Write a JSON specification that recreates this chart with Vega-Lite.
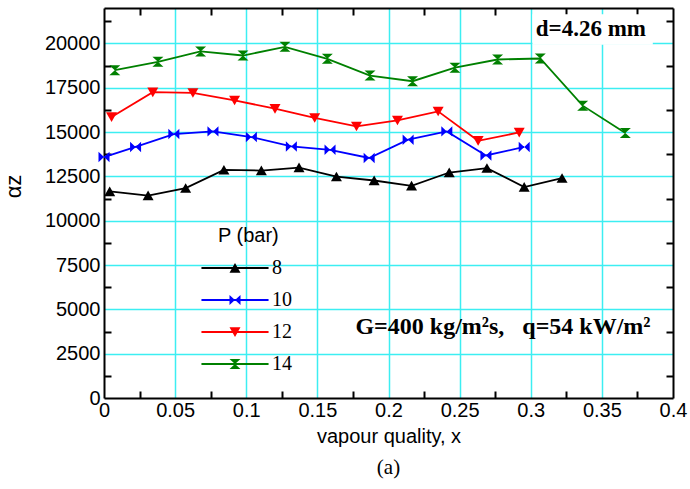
{
  "$schema": "https://vega.github.io/schema/vega-lite/v6.json",
  "autosize": "none",
  "padding": {"left": 104, "top": 8, "right": 17, "bottom": 91},
  "width": 569,
  "height": 390,
  "background": "white",
  "config": {"view": {"stroke": null}},
  "title": {"text": "(a)", "orient": "bottom", "font": "Liberation Serif", "fontSize": 21, "fontWeight": "normal", "color": "black", "offset": 11},
  "datasets": {
    "htc": [
      {"P": "8", "x": 0.004, "h": 11650}, {"P": "8", "x": 0.031, "h": 11420}, {"P": "8", "x": 0.0574, "h": 11840},
      {"P": "8", "x": 0.0843, "h": 12870}, {"P": "8", "x": 0.1106, "h": 12830}, {"P": "8", "x": 0.1371, "h": 13000},
      {"P": "8", "x": 0.1634, "h": 12490}, {"P": "8", "x": 0.1899, "h": 12270}, {"P": "8", "x": 0.2162, "h": 11970},
      {"P": "8", "x": 0.2427, "h": 12720}, {"P": "8", "x": 0.2692, "h": 12970}, {"P": "8", "x": 0.2954, "h": 11900},
      {"P": "8", "x": 0.322, "h": 12400},
      {"P": "10", "x": 0.0, "h": 13590}, {"P": "10", "x": 0.0222, "h": 14160}, {"P": "10", "x": 0.0491, "h": 14890},
      {"P": "10", "x": 0.0766, "h": 15040}, {"P": "10", "x": 0.1036, "h": 14720}, {"P": "10", "x": 0.1317, "h": 14190},
      {"P": "10", "x": 0.1589, "h": 14000}, {"P": "10", "x": 0.1864, "h": 13540}, {"P": "10", "x": 0.2138, "h": 14570},
      {"P": "10", "x": 0.241, "h": 15040}, {"P": "10", "x": 0.2685, "h": 13680}, {"P": "10", "x": 0.2954, "h": 14160},
      {"P": "12", "x": 0.0053, "h": 15850}, {"P": "12", "x": 0.0343, "h": 17250}, {"P": "12", "x": 0.0625, "h": 17210},
      {"P": "12", "x": 0.0918, "h": 16790}, {"P": "12", "x": 0.1202, "h": 16320}, {"P": "12", "x": 0.1481, "h": 15800},
      {"P": "12", "x": 0.1775, "h": 15320}, {"P": "12", "x": 0.2063, "h": 15660}, {"P": "12", "x": 0.2349, "h": 16170},
      {"P": "12", "x": 0.263, "h": 14510}, {"P": "12", "x": 0.2919, "h": 14980},
      {"P": "14", "x": 0.0076, "h": 18490}, {"P": "14", "x": 0.0379, "h": 18965}, {"P": "14", "x": 0.0679, "h": 19550},
      {"P": "14", "x": 0.0977, "h": 19320}, {"P": "14", "x": 0.1272, "h": 19810}, {"P": "14", "x": 0.157, "h": 19135},
      {"P": "14", "x": 0.187, "h": 18190}, {"P": "14", "x": 0.2169, "h": 17870}, {"P": "14", "x": 0.2467, "h": 18630},
      {"P": "14", "x": 0.2767, "h": 19095}, {"P": "14", "x": 0.3067, "h": 19150}, {"P": "14", "x": 0.3365, "h": 16490},
      {"P": "14", "x": 0.3665, "h": 14950}
    ]
  },
  "data": {"name": "htc"},
  "resolve": {"axis": {"x": "independent", "y": "independent"}, "scale": {"shape": "independent"}, "legend": {"shape": "independent", "color": "independent"}},
  "layer": [
    {
      "mark": {"type": "line", "strokeWidth": 1.8},
      "encoding": {
        "x": {"field": "x", "type": "quantitative", "scale": {"domain": [0, 0.4], "nice": false, "zero": false},
          "axis": {"orient": "bottom", "values": [0,0.025,0.05,0.075,0.1,0.125,0.15,0.175,0.2,0.225,0.25,0.275,0.3,0.325,0.35,0.375,0.4],
            "labelExpr": "abs(datum.value*20 - round(datum.value*20)) < 0.01 ? datum.label : ''",
            "format": "~g", "labelFont": "Liberation Sans", "labelFontSize": 20, "labelColor": "black", "labelPadding": 9,
            "labelFlush": false, "labelOverlap": false,
            "domain": true, "domainColor": "black", "domainWidth": 2,
            "ticks": true, "tickSize": -7, "tickWidth": 2, "tickColor": "black",
            "tickOpacity": {"condition": {"test": "abs(datum.value*20 - round(datum.value*20)) > 0.01", "value": 1}, "value": 0},
            "grid": true, "gridColor": "#3CEEF2", "gridWidth": 1.5,
            "gridOpacity": {"condition": {"test": "abs(datum.value*20 - round(datum.value*20)) < 0.01 && datum.value > 0.001 && datum.value < 0.399", "value": 1}, "value": 0},
            "title": "vapour quality, x", "titleFont": "Liberation Sans", "titleFontSize": 20, "titleFontWeight": "normal", "titleColor": "black", "titlePadding": 6}},
        "y": {"field": "h", "type": "quantitative", "scale": {"domain": [0, 22000], "nice": false, "zero": false},
          "axis": {"orient": "left", "values": [0,1250,2500,3750,5000,6250,7500,8750,10000,11250,12500,13750,15000,16250,17500,18750,20000,21250],
            "labelExpr": "datum.value % 2500 === 0 ? '' + datum.value : ''",
            "labelFont": "Liberation Sans", "labelFontSize": 20, "labelColor": "black", "labelPadding": 11,
            "labelFlush": false, "labelOverlap": false,
            "domain": true, "domainColor": "black", "domainWidth": 2,
            "ticks": true, "tickSize": -7, "tickWidth": 2, "tickColor": "black",
            "tickOpacity": {"condition": {"test": "datum.value % 2500 !== 0", "value": 1}, "value": 0},
            "grid": true, "gridColor": "#3CEEF2", "gridWidth": 1.5,
            "gridOpacity": {"condition": {"test": "datum.value % 2500 === 0 && datum.value > 0", "value": 1}, "value": 0},
            "title": "αz", "titleFont": "Liberation Sans", "titleFontSize": 22, "titleFontWeight": "normal", "titleColor": "black",
            "titleAngle": -90, "titleX": -91, "titleY": 178, "titleAlign": "center", "titleBaseline": "middle"}},
        "color": {"field": "P", "type": "nominal", "scale": {"domain": ["8", "10", "12", "14"], "range": ["#000000", "#0000FF", "#FF0000", "#008000"]}, "legend": null},
        "detail": {"field": "P"}
      }
    },
    {
      "mark": {"type": "point", "filled": true, "opacity": 1, "size": 121, "strokeWidth": 0},
      "encoding": {
        "x": {"field": "x", "type": "quantitative", "scale": {"domain": [0, 0.4], "nice": false, "zero": false}, "axis": null},
        "y": {"field": "h", "type": "quantitative", "scale": {"domain": [0, 22000], "nice": false, "zero": false}, "axis": null},
        "color": {"field": "P", "type": "nominal", "scale": {"domain": ["8", "10", "12", "14"], "range": ["#000000", "#0000FF", "#FF0000", "#008000"]}, "legend": null},
        "shape": {"field": "P", "type": "nominal", "scale": {"domain": ["8", "10", "12", "14"], "range": [
          "M-1,0.85L0,-0.9L1,0.85Z",
          "M-1,-0.95L0,0L-1,0.95Z M1,0.95L0,0L1,-0.95Z",
          "M-1,-0.85L1,-0.85L0,0.9Z",
          "M-1,-0.9L1,-0.9L0,0Z M1,0.9L-1,0.9L0,0Z"]}, "legend": null}
      }
    },
    {
      "data": {"values": [{"x1": 0.3012, "x2": 0.3858, "y1": 19930, "y2": 21650}]},
      "mark": {"type": "rect", "color": "white", "opacity": 1},
      "encoding": {
        "x": {"field": "x1", "type": "quantitative", "scale": {"domain": [0, 0.4], "nice": false, "zero": false}, "axis": null},
        "x2": {"field": "x2"},
        "y": {"field": "y1", "type": "quantitative", "scale": {"domain": [0, 22000], "nice": false, "zero": false}, "axis": null},
        "y2": {"field": "y2"}
      }
    },
    {
      "data": {"values": [{"t": "d=4.26 mm", "x": 0.3423, "y": 20790}]},
      "mark": {"type": "text", "font": "Liberation Serif", "fontWeight": "bold", "fontSize": 23, "color": "black", "align": "center", "baseline": "middle"},
      "encoding": {
        "x": {"field": "x", "type": "quantitative", "scale": {"domain": [0, 0.4], "nice": false, "zero": false}, "axis": null},
        "y": {"field": "y", "type": "quantitative", "scale": {"domain": [0, 22000], "nice": false, "zero": false}, "axis": null},
        "text": {"field": "t"}
      }
    },
    {
      "data": {"values": [{"t": "G=400 kg/m²s,\u00a0\u00a0\u00a0q=54 kW/m²", "x": 0.2805, "y": 3990}]},
      "mark": {"type": "text", "font": "Liberation Serif", "fontWeight": "bold", "fontSize": 24, "color": "black", "align": "center", "baseline": "middle"},
      "encoding": {
        "x": {"field": "x", "type": "quantitative", "scale": {"domain": [0, 0.4], "nice": false, "zero": false}, "axis": null},
        "y": {"field": "y", "type": "quantitative", "scale": {"domain": [0, 22000], "nice": false, "zero": false}, "axis": null},
        "text": {"field": "t"}
      }
    },
    {
      "transform": [{"filter": "false"}],
      "mark": {"type": "point", "filled": true, "opacity": 1, "size": 121, "strokeWidth": 0},
      "encoding": {
        "x": {"field": "x", "type": "quantitative", "scale": {"domain": [0, 0.4], "nice": false, "zero": false},
          "axis": {"orient": "top", "values": [0.025,0.075,0.125,0.175,0.225,0.275,0.325,0.375], "labels": false, "grid": false, "title": null,
            "domain": true, "domainColor": "black", "domainWidth": 2, "ticks": true, "tickSize": -7, "tickWidth": 2, "tickColor": "black"}},
        "y": {"field": "h", "type": "quantitative", "scale": {"domain": [0, 22000], "nice": false, "zero": false},
          "axis": {"orient": "right", "values": [1250,3750,6250,8750,11250,13750,16250,18750,21250], "labels": false, "grid": false, "title": null,
            "domain": true, "domainColor": "black", "domainWidth": 2, "ticks": true, "tickSize": -7, "tickWidth": 2, "tickColor": "black"}},
        "color": {"field": "P", "type": "nominal", "scale": {"domain": ["8", "10", "12", "14"], "range": ["#000000", "#0000FF", "#FF0000", "#008000"]},
          "legend": {"orient": "none", "legendX": 114, "legendY": 218, "title": "P (bar)", "titleFont": "Liberation Sans", "titleFontSize": 20, "titleFontWeight": "normal", "titleColor": "black", "titlePadding": 12,
            "labelFont": "Liberation Serif", "labelFontSize": 20, "labelColor": "black", "labelOffset": 27, "symbolOffset": 7, "symbolSize": 121, "symbolStrokeWidth": 0, "rowPadding": 12}},
        "shape": {"field": "P", "type": "nominal", "scale": {"domain": ["8", "10", "12", "14"], "range": [
          "M-6.1,-0.2L6.1,-0.2L6.1,0.2L-6.1,0.2Z M-1,0.85L0,-0.9L1,0.85Z",
          "M-6.1,-0.2L6.1,-0.2L6.1,0.2L-6.1,0.2Z M-1,-0.9L0,0L-1,0.9Z M1,0.9L0,0L1,-0.9Z",
          "M-6.1,-0.2L6.1,-0.2L6.1,0.2L-6.1,0.2Z M-1,-0.85L1,-0.85L0,0.9Z",
          "M-6.1,-0.2L6.1,-0.2L6.1,0.2L-6.1,0.2Z M-1,-0.9L1,-0.9L0,0Z M1,0.9L-1,0.9L0,0Z"]},
          "legend": {"orient": "none", "legendX": 114, "legendY": 218, "title": "P (bar)", "titleFont": "Liberation Sans", "titleFontSize": 20, "titleFontWeight": "normal", "titleColor": "black", "titlePadding": 12,
            "labelFont": "Liberation Serif", "labelFontSize": 20, "labelColor": "black", "labelOffset": 27, "symbolOffset": 7, "symbolSize": 121, "symbolStrokeWidth": 0, "rowPadding": 12}}
      }
    }
  ]
}
